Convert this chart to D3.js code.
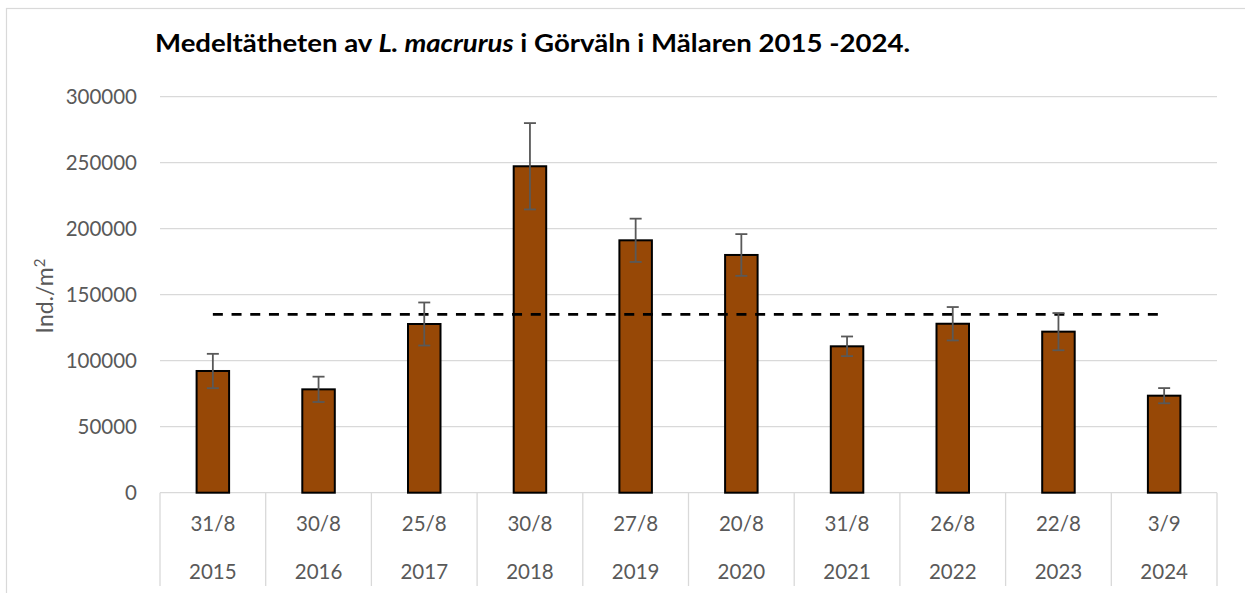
<!DOCTYPE html>
<html>
<head>
<meta charset="utf-8">
<script src="https://cdn.jsdelivr.net/npm/d3@7"></script>
<style>
  html, body { margin: 0; padding: 0; background: #fff; }
  svg { display: block; }
  text { font-family: Lato, "Open Sans", "Liberation Sans", sans-serif; }
</style>
</head>
<body>
<svg id="chart" width="1245" height="593"></svg>
<script>
// ---- data ----
const years = ["2015", "2016", "2017", "2018", "2019", "2020", "2021", "2022", "2023", "2024"];
const dates = ["31/8", "30/8", "25/8", "30/8", "27/8", "20/8", "31/8", "26/8", "22/8", "3/9"];
const density = [92200, 78300, 127800, 247300, 191200, 180100, 110900, 128000, 122000, 73500];
const errors = [13000, 9600, 16300, 32700, 16400, 15800, 7450, 12650, 14100, 5750];
const meanLevel = [135100];
const yTicks = [0, 50000, 100000, 150000, 200000, 250000, 300000];

// ---- layout ----
const W = 1245, H = 593;
const plot = { left: 160, right: 1217, top: 96.7, bottom: 492.7 };
const svg = d3.select("#chart");

// outer chart frame
svg.append("rect")
  .attr("x", 6.5).attr("y", 8.5)
  .attr("width", W + 20).attr("height", H + 20)
  .attr("fill", "none").attr("stroke", "#d9d9d9").attr("stroke-width", 1.2);

const x = d3.scaleBand().domain(years).range([plot.left, plot.right]).paddingInner(0).paddingOuter(0);
const y = d3.scaleLinear().domain([0, 300000]).range([plot.bottom, plot.top]);

// gridlines
svg.append("g").selectAll("line").data(yTicks.filter(d => d > 0)).join("line")
  .attr("x1", plot.left).attr("x2", plot.right)
  .attr("y1", d => y(d)).attr("y2", d => y(d))
  .attr("stroke", "#d9d9d9").attr("stroke-width", 1.3);

// y axis labels
const yAxis = d3.axisLeft(y).tickValues(yTicks).tickSize(0).tickPadding(0).tickFormat(d3.format("d"));
const yg = svg.append("g").attr("transform", `translate(137,0)`).call(yAxis);
yg.select(".domain").remove();
yg.selectAll("text")
  .attr("fill", "#595959").attr("font-size", "20.5px")
  .style("font-family", 'Lato, "Open Sans", sans-serif')
  .attr("dy", "0.35em");

// y axis title
const yt = svg.append("text")
  .attr("transform", "translate(53,296) rotate(-90)")
  .attr("text-anchor", "middle")
  .attr("fill", "#595959").attr("font-size", "23px");
yt.append("tspan").text("Ind./m");
yt.append("tspan").attr("font-size", "15px").attr("dy", "-0.55em").text("2");

// x axis line + separators
svg.append("line")
  .attr("x1", plot.left).attr("x2", plot.right)
  .attr("y1", plot.bottom).attr("y2", plot.bottom)
  .attr("stroke", "#d9d9d9").attr("stroke-width", 1.3);
const bounds = years.map(d => x(d)).concat([x(years[years.length - 1]) + x.bandwidth()]);
svg.append("g").selectAll("line").data(bounds).join("line")
  .attr("x1", d => d).attr("x2", d => d)
  .attr("y1", plot.bottom).attr("y2", 586)
  .attr("stroke", "#d9d9d9").attr("stroke-width", 1.3);

// x labels
const xl = svg.append("g");
xl.selectAll("text.date").data(years).join("text")
  .attr("class", "date")
  .attr("x", d => x(d) + x.bandwidth() / 2).attr("y", 531)
  .attr("text-anchor", "middle").attr("fill", "#595959").attr("font-size", "20.5px")
  .text((d, i) => dates[i]);
xl.selectAll("text.year").data(years).join("text")
  .attr("class", "year")
  .attr("x", d => x(d) + x.bandwidth() / 2).attr("y", 579)
  .attr("text-anchor", "middle").attr("fill", "#595959").attr("font-size", "20.5px")
  .text(d => d);

// bars
const barW = 32.5;
svg.append("g").selectAll("rect").data(years).join("rect")
  .attr("x", d => x(d) + x.bandwidth() / 2 - barW / 2)
  .attr("width", barW)
  .attr("y", (d, i) => y(density[i]))
  .attr("height", (d, i) => y(0) - y(density[i]))
  .attr("fill", "#974806").attr("stroke", "#000").attr("stroke-width", 2);

// mean line (dashed)
const meanData = [years[0], years[years.length - 1]];
svg.append("path")
  .datum(meanData)
  .attr("d", d3.line().x(d => x(d) + x.bandwidth() / 2).y(() => y(meanLevel[0])))
  .attr("fill", "none").attr("stroke", "#000").attr("stroke-width", 2.6)
  .attr("stroke-dasharray", "10,8.7");

// error bars
const eb = svg.append("g").attr("stroke", "#595959").attr("stroke-width", 1.8);
const capW = 12;
years.forEach((yr, i) => {
  const cx = x(yr) + x.bandwidth() / 2;
  const hi = y(density[i] + errors[i]), lo = y(density[i] - errors[i]);
  eb.append("line").attr("x1", cx).attr("x2", cx).attr("y1", hi).attr("y2", lo);
  eb.append("line").attr("x1", cx - capW / 2).attr("x2", cx + capW / 2).attr("y1", hi).attr("y2", hi);
  eb.append("line").attr("x1", cx - capW / 2).attr("x2", cx + capW / 2).attr("y1", lo).attr("y2", lo);
});

// title
const title = svg.append("text")
  .attr("x", 155).attr("y", 52)
  .attr("font-size", "24px").attr("font-weight", "bold").attr("fill", "#000")
  .attr("textLength", 755).attr("lengthAdjust", "spacingAndGlyphs");
title.append("tspan").text("Medeltätheten av ");
title.append("tspan").attr("font-style", "italic").text("L. macrurus");
title.append("tspan").text(" i Görväln i Mälaren 2015 -2024.");
</script>
</body>
</html>
